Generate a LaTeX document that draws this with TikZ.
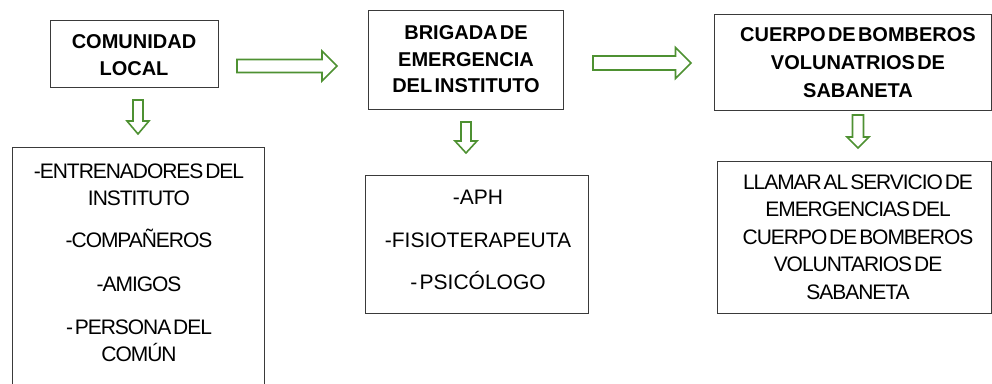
\documentclass[tikz,border=0pt]{standalone}
\usepackage{fontspec}
\setmainfont[WordSpace=0.4]{Liberation Sans}
\newfontfamily\tightfont[WordSpace=0.4,LetterSpace=-5]{Liberation Sans}
\usetikzlibrary{calc}
\definecolor{arrowgreen}{HTML}{4E9132}
\definecolor{boxgray}{HTML}{3A3A3A}
\tikzset{
  box/.style={draw=boxgray, line width=1pt, rectangle, inner sep=0pt, anchor=north west},
  headtext/.style={font=\fontsize{20}{26.5}\selectfont\bfseries, align=center, inner sep=0pt, text=black},
  bodytext/.style={font=\fontsize{21}{27.5}\selectfont, align=center, inner sep=0pt, text=black},
  tighttext/.style={font=\tightfont\fontsize{21}{27.5}\selectfont, align=center, inner sep=0pt, text=black},
  blockarrow/.style={draw=arrowgreen, line width=1.6pt, fill=white, line join=miter}
}
\newcommand{\rightblock}[4]{% start, tip, shaft half, head half
  \draw[blockarrow] ($(#1)+(0,-#3)$) -- ($(#2)+(-#4,-#3)$) -- ($(#2)+(-#4,-#4)$) -- (#2)
    -- ($(#2)+(-#4,#4)$) -- ($(#2)+(-#4,#3)$) -- ($(#1)+(0,#3)$) -- cycle;}
\newcommand{\downblock}[5]{% start, tip, shaft half, head half, head length
  \draw[blockarrow] ($(#1)+(-#3,0)$) -- ($(#2)+(-#3,-#5)$) -- ($(#2)+(-#4,-#5)$) -- (#2)
    -- ($(#2)+(#4,-#5)$) -- ($(#2)+(#3,-#5)$) -- ($(#1)+(#3,0)$) -- cycle;}
\begin{document}
\begin{tikzpicture}[x=1pt,y=-1pt]
\useasboundingbox (0,0) rectangle (992,383);
\fill[white] (0,0) rectangle (992,383);
\clip (0,0) rectangle (992,383);

% boxes
\node[box, minimum width=168pt, minimum height=67pt] (b1) at (50,20) {};
\node[box, minimum width=252pt, minimum height=260pt] (b2) at (12,147) {};
\node[box, minimum width=195pt, minimum height=99pt] (b3) at (368,10) {};
\node[box, minimum width=223pt, minimum height=138pt] (b4) at (365,175) {};
\node[box, minimum width=277pt, minimum height=96pt] (b5) at (714,14) {};
\node[box, minimum width=274pt, minimum height=152pt] (b6) at (717,161) {};

% texts
\node[headtext] (t1) at (134,55) {COMUNIDAD\\LOCAL};
\node[headtext] (t3) at (466,59.5) {BRIGADA DE\\EMERGENCIA\\DEL INSTITUTO};
\node[headtext, font=\fontsize{20}{28}\selectfont\bfseries] (t5) at (858,63) {CUERPO DE BOMBEROS\\VOLUNATRIOS DE\\SABANETA};
\node[tighttext, font=\tightfont\fontsize{21}{26.5}\selectfont] (t2) at (139,263) {-ENTRENADORES DEL\\INSTITUTO\\[16pt]-COMPAÑEROS\\[17pt]-AMIGOS\\[17pt]- PERSONA DEL\\COMÚN};
\node[bodytext] (t4) at (478,240) {-APH\\[15pt]-FISIOTERAPEUTA\\[15pt]- PSICÓLOGO};
\node[tighttext] (t6) at (858,237) {LLAMAR AL SERVICIO DE\\EMERGENCIAS DEL\\CUERPO DE BOMBEROS\\VOLUNTARIOS DE\\SABANETA};

% block arrows
\coordinate (r1s) at (237,66);
\coordinate (r1t) at (337,66);
\coordinate (r2s) at (593,63);
\coordinate (r2t) at (691,63);
\coordinate (d1s) at (138,100);
\coordinate (d1t) at (138,134);
\coordinate (d2s) at (466,122);
\coordinate (d2t) at (466,153);
\coordinate (d3s) at (858,115);
\coordinate (d3t) at (858,148);
\rightblock{r1s}{r1t}{6.5}{15}
\rightblock{r2s}{r2t}{7}{15.5}
\downblock{d1s}{d1t}{5}{11}{13}
\downblock{d2s}{d2t}{5}{11}{12}
\downblock{d3s}{d3t}{5.5}{11}{11}
\end{tikzpicture}
\end{document}
